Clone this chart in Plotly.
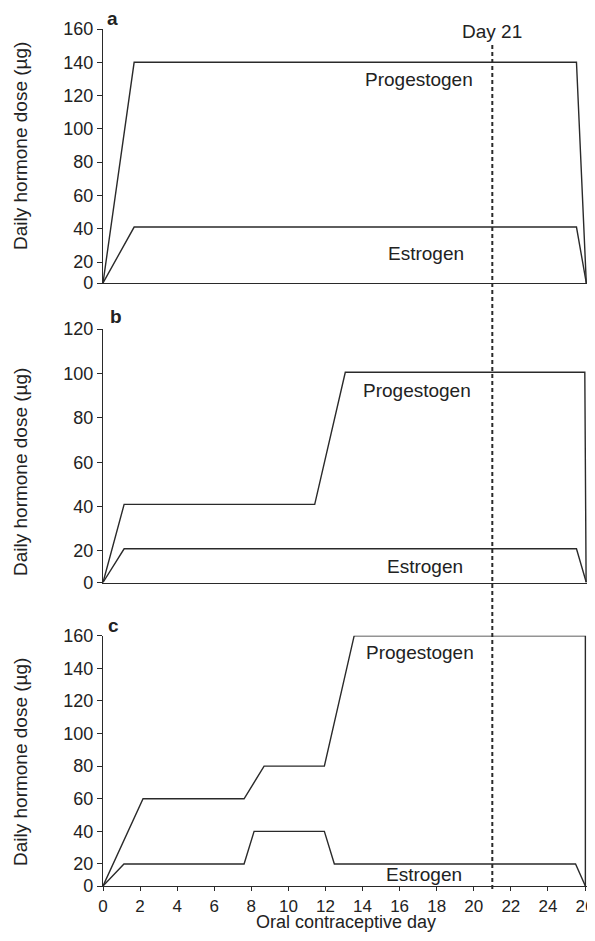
import plotly.graph_objects as go

# ---------------- data ----------------
x_ticks = list(range(0, 27, 2))

# panel a
a_prog_x = [0, 1.68, 25.54, 26.07]
a_prog_y = [0, 140, 140, 0]
a_estr_x = [0, 1.68, 25.54, 26.07]
a_estr_y = [0, 41, 41, 0]
a_yticks = [0, 20, 40, 60, 80, 100, 120, 140, 160]

# panel b
b_prog_x = [0, 1.14, 11.42, 13.07, 25.99, 26.06]
b_prog_y = [0, 41, 41, 100.5, 100.5, 0]
b_estr_x = [0, 1.14, 25.54, 26.07]
b_estr_y = [0, 21, 21, 0]
b_yticks = [0, 20, 40, 60, 80, 100, 120]

# panel c
c_prog_x = [0, 2.16, 7.61, 8.69, 11.94, 13.55, 26.02, 26.02]
c_prog_y = [0, 60, 60, 80, 80, 160, 160, 0]
c_estr_x = [0, 1.13, 7.61, 8.15, 11.94, 12.48, 25.49, 26.02]
c_estr_y = [0, 20, 20, 40, 40, 20, 20, 0]
c_yticks = [0, 20, 40, 60, 80, 100, 120, 140, 160]

marker_day = 21

# ---------------- layout constants ----------------
# the page body adds an 8px margin on every side; fit the figure inside it
OFF = 8
W, H = 595 - 2 * OFF, 941 - 2 * OFF
FONT = "Liberation Sans, Arial, Helvetica, sans-serif"
LINE = "#2a2a2a"

# compressed bottom of each y axis: value 0 drawn at "floor"
floors = {"a": 7.4, "b": 5.8, "c": 6.5}
tops = {"a": 160, "b": 120, "c": 160}

def py(px):
    return 1 - (px - OFF) / H

def pxf(px):
    return (px - OFF) / W

domains = {
    "a": [py(283), py(29)],
    "b": [py(582.5), py(329)],
    "c": [py(886), py(635.7)],
}

def tr(vals, fl):
    return [fl if v == 0 else v for v in vals]

fig = go.Figure()

panels = [
    ("a", "x", "y", a_prog_x, a_prog_y, a_estr_x, a_estr_y, a_yticks),
    ("b", "x2", "y2", b_prog_x, b_prog_y, b_estr_x, b_estr_y, b_yticks),
    ("c", "x3", "y3", c_prog_x, c_prog_y, c_estr_x, c_estr_y, c_yticks),
]

for key, xa, ya, px_, py_, ex, ey, yt in panels:
    fl = floors[key]
    fig.add_trace(go.Scatter(x=px_, y=tr(py_, fl), mode="lines", xaxis=xa, yaxis=ya,
                             line=dict(color=LINE, width=1.4), showlegend=False,
                             name="Progestogen", cliponaxis=False))
    fig.add_trace(go.Scatter(x=ex, y=tr(ey, fl), mode="lines", xaxis=xa, yaxis=ya,
                             line=dict(color=LINE, width=1.4), showlegend=False,
                             name="Estrogen", cliponaxis=False))

# x axis: 0 at page px 103, 26 at page px 585, plot area ends at the visible edge (587)
x_scale = (585 - 103) / 26
xrange = [0, (587 - 103) / x_scale]
xdom = [pxf(103), 1]

common_x = dict(range=xrange, domain=xdom, showgrid=False, zeroline=False,
                showline=True, linecolor=LINE, linewidth=1.4, fixedrange=True,
                automargin=False)

layout = dict(
    width=W, height=H,
    margin=dict(l=0, r=0, t=0, b=0, pad=0, autoexpand=False),
    paper_bgcolor="white", plot_bgcolor="white",
    font=dict(family=FONT, color="#222", size=18),
    showlegend=False,
)

axis_ids = {"a": ("xaxis", "yaxis", "y", "x"),
            "b": ("xaxis2", "yaxis2", "y2", "x2"),
            "c": ("xaxis3", "yaxis3", "y3", "x3")}

for key, xa, ya, px_, py_, ex, ey, yt in panels:
    xname, yname, yref, xref = axis_ids[key]
    fl = floors[key]
    xd = dict(common_x, anchor=yref)
    if key == "c":
        xd.update(tickmode="array", tickvals=x_ticks, ticks="outside", ticklen=4,
                  tickwidth=1.3, tickcolor=LINE, tickfont=dict(size=17),
                  ticklabeloverflow="allow")
    else:
        xd.update(showticklabels=False, ticks="")
    layout[xname] = xd
    layout[yname] = dict(
        range=[fl, tops[key]], domain=domains[key], anchor=xref,
        showgrid=False, zeroline=False, showline=True, linecolor=LINE, linewidth=1.4,
        ticks="outside", ticklen=5, tickwidth=1.3, tickcolor=LINE,
        tickmode="array", tickvals=tr(yt, fl), ticktext=[str(v) for v in yt],
        tickfont=dict(size=18), fixedrange=True, automargin=False,
    )

fig.update_layout(**layout)

# dashed Day 21 line across all panels
fig.add_shape(type="line", xref="x3", yref="paper", x0=marker_day, x1=marker_day,
              y0=py(889), y1=py(43), line=dict(color=LINE, width=2, dash="4px,3px"))

ylabel = "Daily hormone dose (\u00b5g)"
ann = [
    dict(text="Day 21", x=marker_day, xref="x3", y=py(32), yref="paper",
         font=dict(size=19)),
    dict(text="<b>a</b>", x=pxf(112.5), xref="paper", y=py(18), yref="paper", font=dict(size=19)),
    dict(text="<b>b</b>", x=pxf(116), xref="paper", y=py(317), yref="paper", font=dict(size=19)),
    dict(text="<b>c</b>", x=pxf(113), xref="paper", y=py(625), yref="paper", font=dict(size=19)),
    dict(text="Progestogen", x=17.05, xref="x", y=129.4, yref="y", font=dict(size=19)),
    dict(text="Estrogen", x=17.4, xref="x", y=25.4, yref="y", font=dict(size=19)),
    dict(text="Progestogen", x=16.95, xref="x2", y=92.5, yref="y2", font=dict(size=19)),
    dict(text="Estrogen", x=17.37, xref="x2", y=13, yref="y2", font=dict(size=19)),
    dict(text="Progestogen", x=17.08, xref="x3", y=149.4, yref="y3", font=dict(size=19)),
    dict(text="Estrogen", x=17.3, xref="x3", y=13.8, yref="y3", font=dict(size=19)),
    dict(text="Oral contraceptive day", x=pxf(346), xref="paper", y=0,
         yref="paper", yanchor="bottom", borderpad=0, font=dict(size=18)),
    dict(text=ylabel, x=pxf(20), xref="paper", y=py(146), yref="paper", textangle=-90,
         font=dict(size=19)),
    dict(text=ylabel, x=pxf(20), xref="paper", y=py(472), yref="paper", textangle=-90,
         font=dict(size=19)),
    dict(text=ylabel, x=pxf(20), xref="paper", y=py(762), yref="paper", textangle=-90,
         font=dict(size=19)),
]
for a in ann:
    a.setdefault("yanchor", "middle")
    a.update(showarrow=False, xanchor="center")
    fig.add_annotation(**a)

fig.write_html("out.html")
